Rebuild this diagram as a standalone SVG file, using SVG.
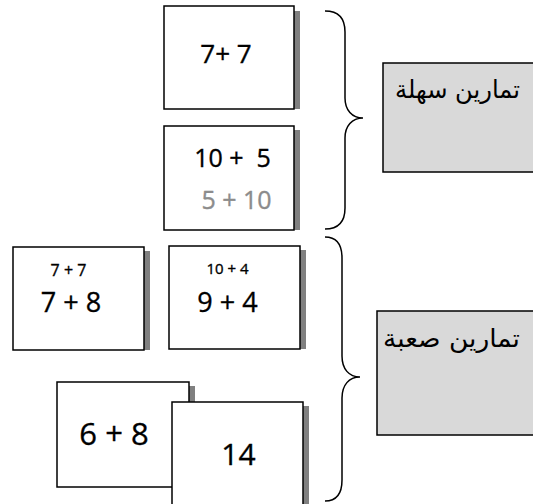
<svg xmlns="http://www.w3.org/2000/svg" width="533" height="504" viewBox="0 0 533 504">
<style>
.card{fill:#fff;stroke:#000;stroke-width:1.5}
.shadow{fill:#808080}
.cat{fill:#d9d9d9;stroke:#000;stroke-width:1.5}
.t{font-family:'Open Sans','DejaVu Sans',sans-serif;fill:#000;stroke:#000;stroke-width:0.35}
.gray{fill:#8c8c8c;stroke:#8c8c8c}
.ar{font-family:'DejaVu Sans','Noto Sans',sans-serif;font-size:25px;fill:#000}
.brace{fill:none;stroke:#000;stroke-width:1.5}
</style>
<rect width="533" height="504" fill="#fff"/>
<g id="card-7p7">
<rect class="shadow" x="294" y="11" width="6" height="98"/>
<rect class="card" x="164" y="6" width="130" height="103"/>
<text class="t" x="226" y="63" font-size="26" text-anchor="middle">7+ 7</text>
</g>
<g id="card-10p5">
<rect class="shadow" x="294" y="130" width="6" height="100"/>
<rect class="card" x="164" y="126" width="130" height="104"/>
<text class="t" x="232.5" y="167" font-size="25" text-anchor="middle" xml:space="preserve">10 +  5</text>
<text class="t gray" x="236.5" y="209" font-size="25" text-anchor="middle">5 + 10</text>
</g>
<g id="card-7p8">
<rect class="shadow" x="144" y="251" width="6" height="99"/>
<rect class="card" x="13" y="247" width="131" height="103"/>
<text class="t" x="68.5" y="276" font-size="16" text-anchor="middle" stroke-width="0.2">7 + 7</text>
<text class="t" x="71" y="312" font-size="27" text-anchor="middle">7 + 8</text>
</g>
<g id="card-9p4">
<rect class="shadow" x="300" y="250" width="6" height="99"/>
<rect class="card" x="169" y="246" width="131" height="103"/>
<text class="t" x="227.5" y="274" font-size="15" text-anchor="middle" stroke-width="0.2">10 + 4</text>
<text class="t" x="227.5" y="312" font-size="27" text-anchor="middle">9 + 4</text>
</g>
<g id="card-6p8">
<rect class="shadow" x="189" y="386" width="6" height="101"/>
<rect class="card" x="57" y="382" width="132" height="105"/>
<text class="t" x="114" y="445" font-size="31" text-anchor="middle">6 + 8</text>
</g>
<g id="card-14">
<rect class="shadow" x="303" y="406" width="6" height="110"/>
<rect class="card" x="172" y="402" width="131" height="114"/>
<text class="t" x="238.5" y="465" font-size="30" text-anchor="middle">14</text>
</g>
<g id="easy">
<rect class="cat" x="383" y="63" width="170" height="109"/>
<text class="ar" x="520" y="98" text-anchor="end" textLength="125" lengthAdjust="spacingAndGlyphs">تمارين سهلة</text>
</g>
<g id="hard">
<rect class="cat" x="377" y="311" width="176" height="124"/>
<text class="ar" x="520" y="347" text-anchor="end" textLength="137" lengthAdjust="spacingAndGlyphs">تمارين صعبة</text>
</g>
<g id="connectors">
<path class="brace" d="M325,11 C338,11 345,18 345,32 L345,98 C345,110 352,118 363,118 C352,118 345,126 345,138 L345,208 C345,222 338,229 325,229"/>
<path class="brace" d="M325,237 C336,237 342,244 342,258 L342,356 C342,369 349,377 360,377 C349,377 342,385 342,398 L342,480 C342,494 336,501 325,501"/>
</g>
</svg>
